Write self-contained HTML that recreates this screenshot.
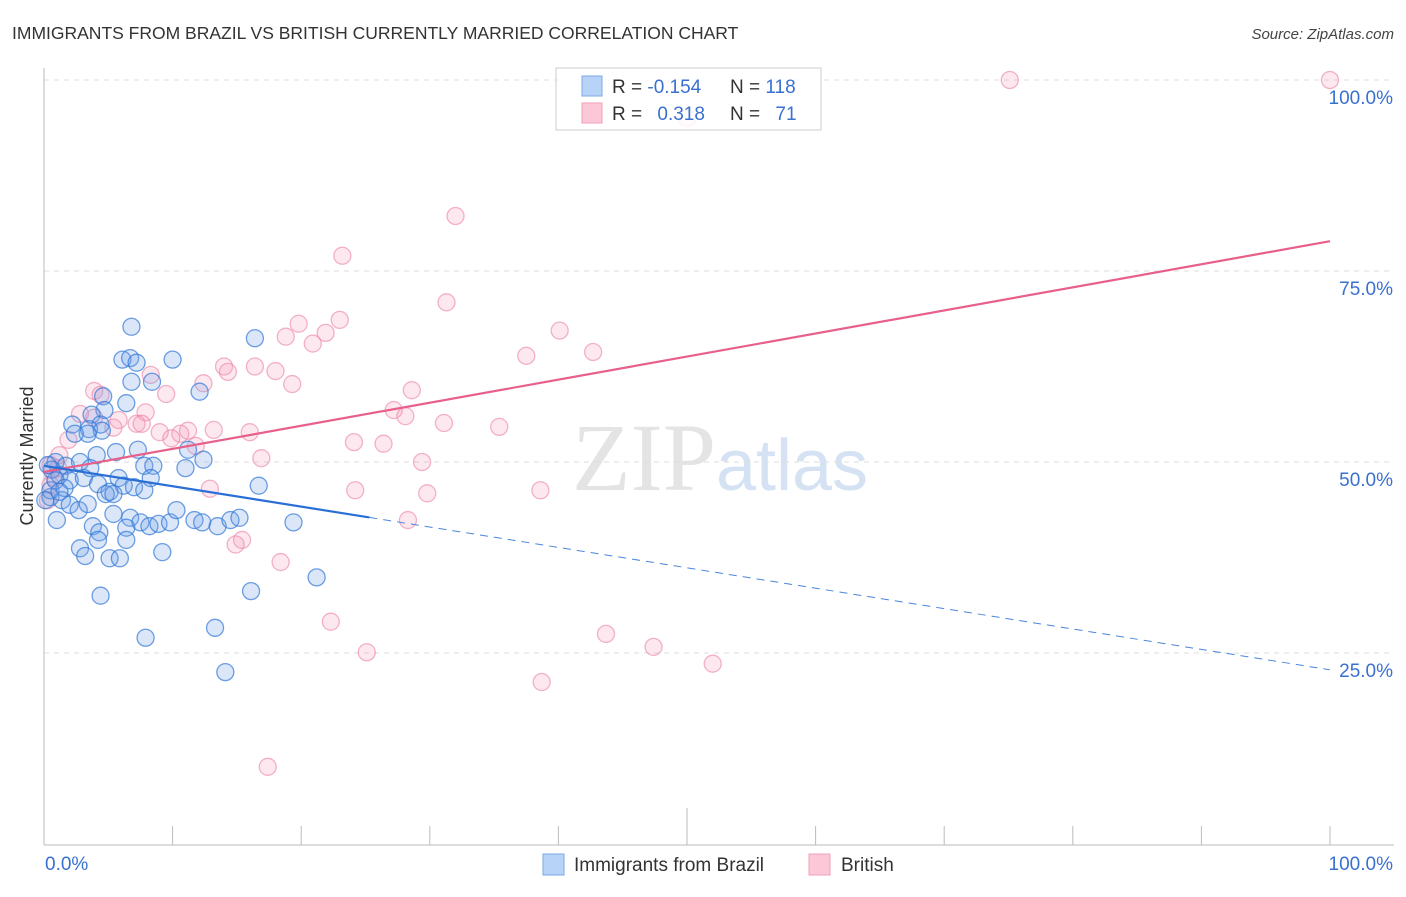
<!DOCTYPE html>
<html><head><meta charset="utf-8"><style>
body{margin:0;background:#fff;font-family:"Liberation Sans",sans-serif;}
</style></head><body>
<svg id="chart" width="1406" height="892" xmlns="http://www.w3.org/2000/svg" font-family="Liberation Sans, sans-serif">
<text x="12" y="39" font-size="17.5" fill="#333">IMMIGRANTS FROM BRAZIL VS BRITISH CURRENTLY MARRIED CORRELATION CHART</text>
<text x="1394" y="39" font-size="15" fill="#444" text-anchor="end" font-style="italic">Source: ZipAtlas.com</text>
<text x="720" y="490" font-size="96" fill="#e4e4e4" text-anchor="middle" font-family="Liberation Serif, serif">ZIP<tspan fill="#d4e2f4" font-family="Liberation Sans, sans-serif" font-size="72">atlas</tspan></text>
<text transform="translate(33,456) rotate(-90)" font-size="18" fill="#333" text-anchor="middle">Currently Married</text>
<g id="grid"></g>
<g id="axes"></g>
<g id="pts"></g>
<g id="trends"></g>
<g>
<rect x="556" y="68" width="265" height="62" fill="#fff" fill-opacity="0.85" stroke="#ccc"/>
<rect x="582" y="76" width="20" height="20" fill="#b8d3f8" stroke="#7aaae6"/>
<text x="612" y="93" font-size="19" fill="#333">R = <tspan fill="#3a70d0">-0.154</tspan></text>
<text x="730" y="93" font-size="19" fill="#333">N = <tspan fill="#3a70d0">118</tspan></text>
<rect x="582" y="103" width="20" height="20" fill="#fcc8d8" stroke="#f0a0b8"/>
<text x="612" y="120" font-size="19" fill="#333">R = <tspan fill="#3a70d0" dx="10">0.318</tspan></text>
<text x="730" y="120" font-size="19" fill="#333">N = <tspan fill="#3a70d0" dx="10">71</tspan></text>
</g>
<g>
<rect x="543" y="854" width="21" height="21" fill="#b8d3f8" stroke="#7aaae6"/>
<text x="574" y="871" font-size="19" fill="#333">Immigrants from Brazil</text>
<rect x="809" y="854" width="21" height="21" fill="#fcc8d8" stroke="#f0a0b8"/>
<text x="841" y="871" font-size="19" fill="#333">British</text>
</g>
</svg>
<script>
const yTicks=[25,50,75,100];
const yTickLabels=["25.0%","50.0%","75.0%","100.0%"];
const xTicks=[0,10,20,30,40,50,60,70,80,90,100];
const blueX=[6.8,16.4,6.1,6.7,7.2,10.0,6.8,8.4,12.1,4.6,6.4,4.7,3.7,4.4,2.2,3.5,4.5,3.4,2.4,5.6,4.1,7.3,11.2,12.4,0.9,1.7,2.8,3.6,7.8,8.5,11.0,0.6,1.2,2.0,3.1,4.2,5.8,6.2,5.1,4.8,5.4,7.0,7.8,8.3,16.7,0.5,1.4,2.0,2.7,3.4,5.4,6.7,7.5,8.2,8.9,9.8,10.3,11.7,12.3,13.5,14.5,15.2,19.4,1.0,3.8,4.3,6.4,4.2,6.4,2.8,3.2,5.1,5.9,9.2,21.2,16.1,4.4,13.3,7.9,14.1,0.3,0.5,0.9,1.6,0.1,1.2];
const blueY=[67.7,66.2,63.4,63.6,63.0,63.4,60.5,60.5,59.2,58.6,57.7,56.8,56.2,54.9,54.9,54.3,54.1,53.7,53.7,51.3,50.9,51.6,51.6,50.3,50.0,49.5,50.0,49.2,49.5,49.5,49.2,49.0,48.3,47.6,47.9,47.1,47.9,46.9,46.1,45.8,45.8,46.7,46.3,47.9,46.9,45.4,45.0,44.4,43.7,44.5,43.2,42.7,42.1,41.6,41.9,42.1,43.7,42.4,42.1,41.6,42.4,42.7,42.1,42.4,41.6,40.8,41.4,39.8,39.8,38.7,37.7,37.4,37.4,38.2,34.9,33.1,32.5,28.3,27.0,22.5,49.6,46.3,47.6,46.6,45.0,46.1];
const pinkX=[75.1,100,50,32,23.2,31.3,19.8,23.0,21.9,18.8,20.9,40.1,37.5,42.7,14.0,16.4,18.0,14.3,8.3,12.4,19.3,3.9,4.4,9.5,28.6,2.8,7.9,3.9,5.8,27.2,28.1,31.1,35.4,7.2,7.6,5.4,9.0,10.6,11.2,13.2,16.0,1.9,9.9,11.8,24.1,26.4,16.9,29.4,1.1,0.8,0.5,24.2,12.9,29.8,38.6,28.3,15.4,14.9,18.4,22.3,43.7,47.4,25.1,52.0,38.7,17.4,0.5,1.2,0.3];
const pinkY=[100,100,95,82.2,77.0,70.9,68.1,68.6,66.9,66.4,65.5,67.2,63.9,64.4,62.5,62.5,61.9,61.8,61.4,60.3,60.2,59.3,58.8,58.9,59.4,56.3,56.5,55.8,55.5,56.8,56.0,55.1,54.6,55.0,55.0,54.5,53.9,53.7,54.1,54.2,53.9,52.9,53.1,52.1,52.6,52.4,50.5,50.0,49.2,47.9,47.0,46.3,46.5,45.9,46.3,42.4,39.8,39.2,36.9,29.1,27.5,25.8,25.1,23.6,21.2,10.1,49.6,50.9,45.0];
const blueTrend=[49.5,-0.267];
const blueSolidEnd=25.3;
const pinkTrend=[48.7,0.302];

const NS="http://www.w3.org/2000/svg";
const X0=44,X1=1330,Y0=844,Y100=80;
const sx=v=>X0+(X1-X0)*v/100;
const sy=v=>Y0-(Y0-Y100)*v/100;
function mk(t,a,p){const e=document.createElementNS(NS,t);for(const k in a)e.setAttribute(k,a[k]);p.appendChild(e);return e;}
const grid=document.getElementById('grid'),axes=document.getElementById('axes'),pts=document.getElementById('pts'),tr=document.getElementById('trends');
yTicks.forEach((v,i)=>{
 const l=mk('line',{x1:X0,x2:1394,y1:sy(v),y2:sy(v),stroke:'#ddd','stroke-dasharray':'5,5'},grid);
 
 
 const t=mk('text',{x:1393,y:sy(v)+24,'font-size':19,fill:'#3a70d0','text-anchor':'end'},grid);
 t.textContent=yTickLabels[i];
 
 
});
let a=mk('line',{x1:X0,x2:X0,y1:68,y2:Y0+1,stroke:'#bbb'},axes);


a=mk('line',{x1:X0,x2:1394,y1:Y0+1,y2:Y0+1,stroke:'#bbb'},axes);


xTicks.forEach(v=>{
 const l=mk('line',{x1:sx(v),x2:sx(v),y1:v==50?808:826,y2:Y0+1,stroke:'#bbb'},axes);
 
 
});
let t=mk('text',{x:45,y:870,'font-size':19,fill:'#3a70d0'},axes);t.textContent='0.0%';


t=mk('text',{x:1393,y:870,'font-size':19,fill:'#3a70d0','text-anchor':'end'},axes);t.textContent='100.0%';


function dots(X,Y,fill,stroke,name){X.forEach((x,i)=>{
 const c=mk('circle',{cx:sx(x),cy:sy(Y[i]),r:8.5,fill:fill,stroke:stroke,'stroke-width':1.3},pts);
 
 
});}
dots(pinkX,pinkY,'rgba(245,150,180,0.22)','rgba(235,130,165,0.6)','british-point');
dots(blueX,blueY,'rgba(110,160,230,0.25)','rgba(50,120,215,0.7)','brazil-point');
let l=mk('line',{x1:sx(0),y1:sy(pinkTrend[0]),x2:sx(100),y2:sy(pinkTrend[0]+pinkTrend[1]*100),stroke:'#e8608a','stroke-width':2.2},tr);


l=mk('line',{x1:sx(0),y1:sy(blueTrend[0]),x2:sx(blueSolidEnd),y2:sy(blueTrend[0]+blueTrend[1]*blueSolidEnd),stroke:'#2a6fd6','stroke-width':2.2},tr);


l=mk('line',{x1:sx(blueSolidEnd),y1:sy(blueTrend[0]+blueTrend[1]*blueSolidEnd),x2:sx(100),y2:sy(blueTrend[0]+blueTrend[1]*100),stroke:'#4a85dd','stroke-width':1,'stroke-dasharray':'8,6'},tr);


</script>
</body></html>
